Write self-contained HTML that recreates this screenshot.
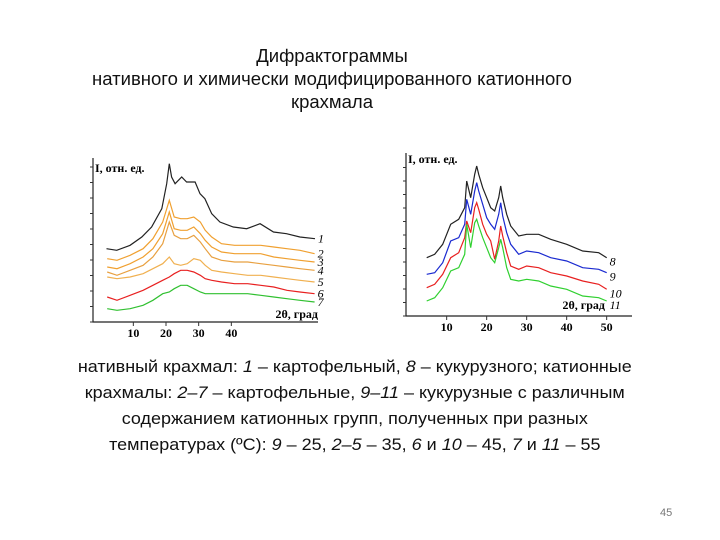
<!DOCTYPE html>
<html><head><meta charset="utf-8">
<style>
html,body{margin:0;padding:0;background:#fff;}
body{width:720px;height:540px;position:relative;overflow:hidden;font-family:"Liberation Sans","DejaVu Sans",sans-serif;}
.title{position:absolute;left:-28px;width:720px;text-align:center;font-size:18.5px;color:#111;line-height:23px;top:44px;}
.title div{position:relative;}
.cap{position:absolute;left:60px;width:600px;text-align:center;font-size:16.5px;color:#111;line-height:26px;top:354px;transform:scaleX(1.09);transform-origin:358px 0;}
.pn{position:absolute;left:660px;top:507px;font-size:11px;color:#777;}
svg{position:absolute;left:0;top:0;}
</style></head><body>
<div class="title">
<div>Дифрактограммы</div>
<div>нативного и химически модифицированного катионного</div>
<div>крахмала</div>
</div>
<svg id="chart" width="720" height="540"></svg>
<div class="cap">нативный крахмал: <i>1</i> – картофельный, <i>8</i> – кукурузного; катионные<br>крахмалы: <i>2–7</i> – картофельные, <i>9–11</i> – кукурузные с различным<br>содержанием катионных групп, полученных при разных<br>температурах (ºС): <i>9</i> – 25, <i>2–5</i> – 35, <i>6</i> и <i>10</i> – 45, <i>7</i> и <i>11</i> – 55</div>
<div class="pn">45</div>
<script>
const leftAngles=[2,5,9,13,16,19,21,22.5,24.5,26.5,28.5,30.5,32,34,37,41,45,49,53,57,61,65.5];
const curve1Angles=[1.8,4.9,9,12.6,15.6,18.7,20.2,21,21.7,22.8,24.8,26.3,28.9,30.4,31.9,34,36.5,40.6,44.7,48.8,52.9,56.9,61,65.6];
const curve1=[44,43,46,51,57,68,83,95,87,83,87,84,84,77,74,65,60,57,56,59,54,53,51,50];
const curve2=[38,37,40,44,50,60,73,63,62,62,63,60,55,51,47,46,46,46,45,44,43,41];
const curve3=[33,32,35,39,44,53,66,56,55,55,57,53,49,45,42,41,41,41,39,38,37,36];
const curve4=[30,28,31,34,39,47,60,52,50,50,52,48,44,39,37,36,36,35,34,33,32,31];
const curve5=[27,26,27,29,32,35,39,35,34,35,38,37,34,31,30,29,28,28,27,26,25,24];
const curve6=[15,13,16,19,22,25,27,29,31,31,30,28,26,25,24,23,23,22,21,19,18,17];
const curve7=[8,7,8,10,13,17,18,20,22,22,20,18,17,17,17,17,17,16,15,14,13,12];
const leftTicks=[10,20,30,40];
const rightAngles=[5,7,9,11,13,14.5,15,16,17,17.5,18,19,20,21,22,23,23.5,24,25,26,28,30,33,36,40,44,48,50];
const curve8=[35,37,43,55,58,65,81,71,85,90,85,77,71,65,63,71,78,71,61,54,48,49,49,46,43,39,38,35];
const curve9=[25,26,32,45,47,55,70,61,75,80,75,67,59,55,52,61,68,60,50,43,37,39,38,35,33,29,28,26];
const curve10=[17,19,25,35,38,47,57,50,65,68,64,55,49,45,34,45,54,48,38,30,28,30,29,26,24,21,19,16];
const curve11=[9,11,17,27,29,37,55,41,56,58,54,47,41,35,32,41,46,41,29,22,21,22,21,18,16,12,11,9];
const rightTicks=[10,20,30,40,50];

const svg=document.getElementById('chart');
const NS='http://www.w3.org/2000/svg';
function mk(tag,attrs,parent){const e=document.createElementNS(NS,tag);for(const k in attrs)e.setAttribute(k,attrs[k]);(parent||svg).appendChild(e);return e;}
function lx(a){return 80+(160+(a-10)*9.8)/3;}
function ly(v){return 322-v*5/3;}
function rx(a){return 395+(155+(a-10)*12)/3;}
function ry(v){return 316-v*5/3;}

let g=mk('g',{});


let ax=mk('path',{d:'M93 158 V322 H318',stroke:'#222','stroke-width':1.2,fill:'none'},g);


for(let i=0;i<11;i++){const y=322-i*15.5;mk('line',{x1:90,x2:93,y1:y,y2:y,stroke:'#333'},g);}
leftTicks.forEach(t=>{const x=lx(t);mk('line',{x1:x,x2:x,y1:322,y2:326,stroke:'#333'},g);
 const tx=mk('text',{x:x,y:337,'text-anchor':'middle','font-size':12,'font-weight':'bold','font-family':'Liberation Serif,serif'},g);tx.textContent=t;
 });
let t1=mk('text',{x:95,y:172,'font-size':12,'font-weight':'bold','font-family':'Liberation Serif,serif'},g);t1.textContent='I, отн. ед.';

let t2=mk('text',{x:318,y:318,'text-anchor':'end','font-size':12,'font-weight':'bold','font-family':'Liberation Serif,serif'},g);t2.textContent='2θ, град';

const leftSeries=[[curve1Angles,curve1,'#222','1'],[leftAngles,curve2,'#f0a030','2'],[leftAngles,curve3,'#f0a030','3'],[leftAngles,curve4,'#e8a040','4'],[leftAngles,curve5,'#f0b050','5'],[leftAngles,curve6,'#e82020','6'],[leftAngles,curve7,'#30c030','7']];
leftSeries.forEach(s=>{const pts=s[0].map((a,i)=>lx(a).toFixed(1)+','+ly(s[1][i]).toFixed(1)).join(' ');
 const p=mk('polyline',{points:pts,fill:'none',stroke:s[2],'stroke-width':1.2},g);
 
 const last=s[1][s[1].length-1];
 const l=mk('text',{x:lx(s[0][s[0].length-1])+3,y:ly(last)+4,'font-size':12,'font-style':'italic','font-family':'Liberation Serif,serif'},g);l.textContent=s[3];
 });

let g2=mk('g',{});


let ax2=mk('path',{d:'M406 153 V316 H632',stroke:'#222','stroke-width':1.2,fill:'none'},g2);


for(let i=0;i<12;i++){const y=316-i*13.5;mk('line',{x1:403,x2:406,y1:y,y2:y,stroke:'#333'},g2);}
rightTicks.forEach(t=>{const x=rx(t);mk('line',{x1:x,x2:x,y1:316,y2:320,stroke:'#333'},g2);
 const tx=mk('text',{x:x,y:331,'text-anchor':'middle','font-size':12,'font-weight':'bold','font-family':'Liberation Serif,serif'},g2);tx.textContent=t;
 });
let t3=mk('text',{x:408,y:163,'font-size':12,'font-weight':'bold','font-family':'Liberation Serif,serif'},g2);t3.textContent='I, отн. ед.';

let t4=mk('text',{x:605,y:309,'text-anchor':'end','font-size':12,'font-weight':'bold','font-family':'Liberation Serif,serif'},g2);t4.textContent='2θ, град';

const rightSeries=[[curve8,'#222','8'],[curve9,'#1a2ad0','9'],[curve10,'#e82020','10'],[curve11,'#30d030','11']];
rightSeries.forEach(s=>{const pts=rightAngles.map((a,i)=>rx(a).toFixed(1)+','+ry(s[0][i]).toFixed(1)).join(' ');
 const p=mk('polyline',{points:pts,fill:'none',stroke:s[1],'stroke-width':1.2},g2);
 
 const last=s[0][s[0].length-1];
 const l=mk('text',{x:rx(50)+3,y:ry(last)+8,'font-size':12,'font-style':'italic','font-family':'Liberation Serif,serif'},g2);l.textContent=s[2];
 });
</script>
</body></html>
